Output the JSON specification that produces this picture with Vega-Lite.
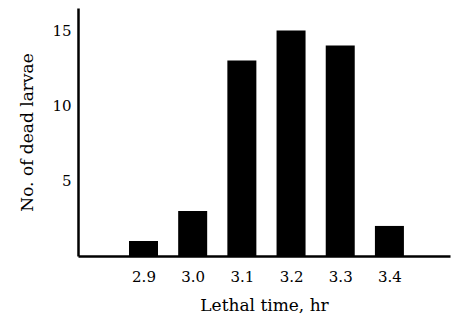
{
  "$schema": "https://vega.github.io/schema/vega-lite/v6.json",
  "width": 372,
  "height": 248,
  "autosize": {"type": "none"},
  "padding": {"left": 78, "top": 8, "right": 3, "bottom": 70},
  "background": "white",
  "config": {
    "view": {"stroke": null},
    "font": "DejaVu Serif"
  },
  "data": {
    "values": [
      {"time": 2.9, "label": "2.9", "count": 1},
      {"time": 3.0, "label": "3.0", "count": 3},
      {"time": 3.1, "label": "3.1", "count": 13},
      {"time": 3.2, "label": "3.2", "count": 15},
      {"time": 3.3, "label": "3.3", "count": 14},
      {"time": 3.4, "label": "3.4", "count": 2}
    ]
  },
  "mark": {"type": "bar", "color": "black", "width": 29},
  "encoding": {
    "x": {
      "field": "time",
      "type": "quantitative",
      "scale": {"domain": [2.777, 3.513], "nice": false, "zero": false},
      "axis": {
        "title": "Lethal time, hr",
        "titleFont": "DejaVu Serif",
        "titleFontSize": 17,
        "titleFontWeight": "normal",
        "titleColor": "black",
        "titlePadding": 13,
        "values": [2.9, 3.0, 3.1, 3.2, 3.3, 3.4],
        "format": ".1f",
        "labelFont": "DejaVu Serif",
        "labelFontSize": 15,
        "labelColor": "black",
        "labelPadding": 13,
        "ticks": false,
        "grid": false,
        "domainColor": "black",
        "domainWidth": 2.5
      }
    },
    "y": {
      "field": "count",
      "type": "quantitative",
      "scale": {"domain": [0, 16.5], "nice": false},
      "axis": {
        "title": "No. of dead larvae",
        "titleFont": "DejaVu Serif",
        "titleFontSize": 17,
        "titleFontWeight": "normal",
        "titleColor": "black",
        "titlePadding": 15,
        "values": [5, 10, 15],
        "labelFont": "DejaVu Serif",
        "labelFontSize": 15,
        "labelColor": "black",
        "labelPadding": 7,
        "ticks": false,
        "grid": false,
        "domainColor": "black",
        "domainWidth": 2.5
      }
    }
  }
}
